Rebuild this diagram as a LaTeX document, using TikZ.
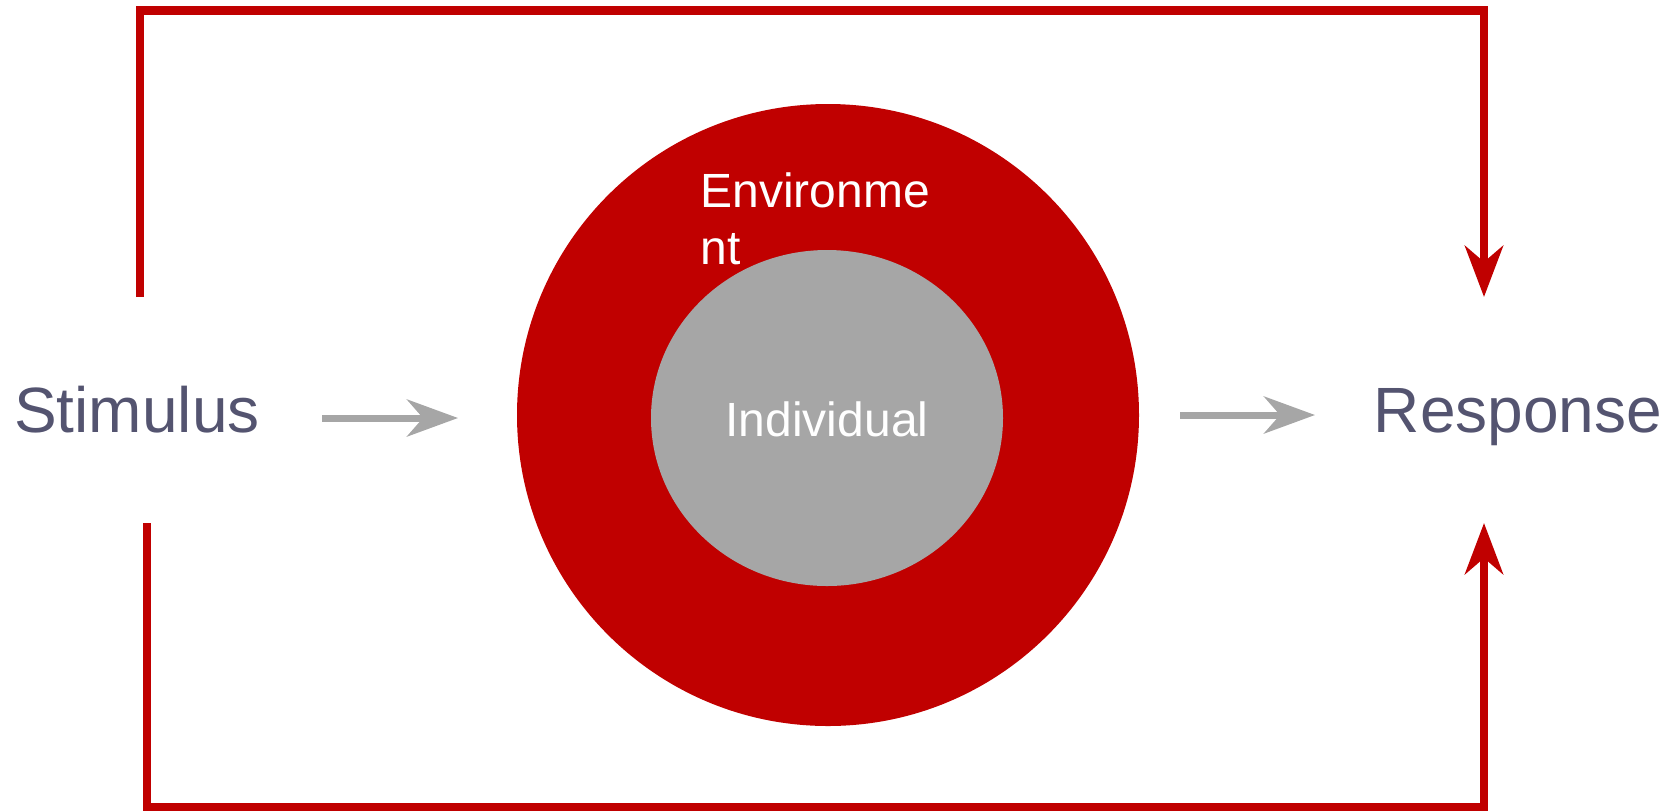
\documentclass[tikz,border=0pt]{standalone}
\usepackage{fontspec}
\setmainfont{Liberation Sans}
\usetikzlibrary{arrows.meta,shapes.geometric}
\definecolor{darkred}{RGB}{192,0,0}
\definecolor{midgray}{RGB}{166,166,166}
\definecolor{slate}{RGB}{84,84,112}

\begin{document}
\begin{tikzpicture}[x=0.5pt,y=-0.5pt,
        fb/.style={draw=darkred, line width=4.3pt},
        fbtip/.style={-{Stealth[length=25.5pt,width=19pt,inset=8pt]}},
        flow/.style={draw=midgray, line width=3.5pt,
            -{Stealth[length=25.5pt,width=18.5pt,inset=8pt]}},
        big/.style={text=slate, inner sep=0pt, font=\fontsize{32}{38}\selectfont},
        small/.style={text=white, inner sep=0pt, font=\fontsize{24}{28.5}\selectfont}]
        \useasboundingbox (0,0) rectangle (1677,811);

        \node[circle, fill=darkred, inner sep=0pt, minimum size=311pt] (e) at (828,415) {};
        \node[ellipse, fill=midgray, inner sep=0pt,
            minimum width=176pt, minimum height=168pt] (i) at (827,418) {};
        \node[small, anchor=base] (ilab) at (827,436) {Individual};
        \node[small, align=left, anchor=base west] (elab) at (700,264) {Environme\\nt};

        \node[big, anchor=base] (s) at (137,432) {Stimulus};
        \node[big, anchor=base] (r) at (1518,432) {Response};

        \coordinate (s1) at (322,418);
        \coordinate (s2) at (458,418);
        \coordinate (r1) at (1180,415);
        \coordinate (r2) at (1315,415);
        \draw[flow] (s1) -- (s2);
        \draw[flow] (r1) -- (r2);

        \coordinate (ta) at (140,297);
        \coordinate (tb) at (140,10.5);
        \coordinate (tc) at (1484,10.5);
        \coordinate (td) at (1484,297);
        \draw[fb, fbtip] (ta) -- (tb) -- (tc) -- (td);

        \coordinate (ba) at (147,523);
        \coordinate (bb) at (147,807);
        \coordinate (bc) at (1484,807);
        \coordinate (bd) at (1484,523);
        \draw[fb, fbtip] (ba) -- (bb) -- (bc) -- (bd);
    \end{tikzpicture}
\end{document}
